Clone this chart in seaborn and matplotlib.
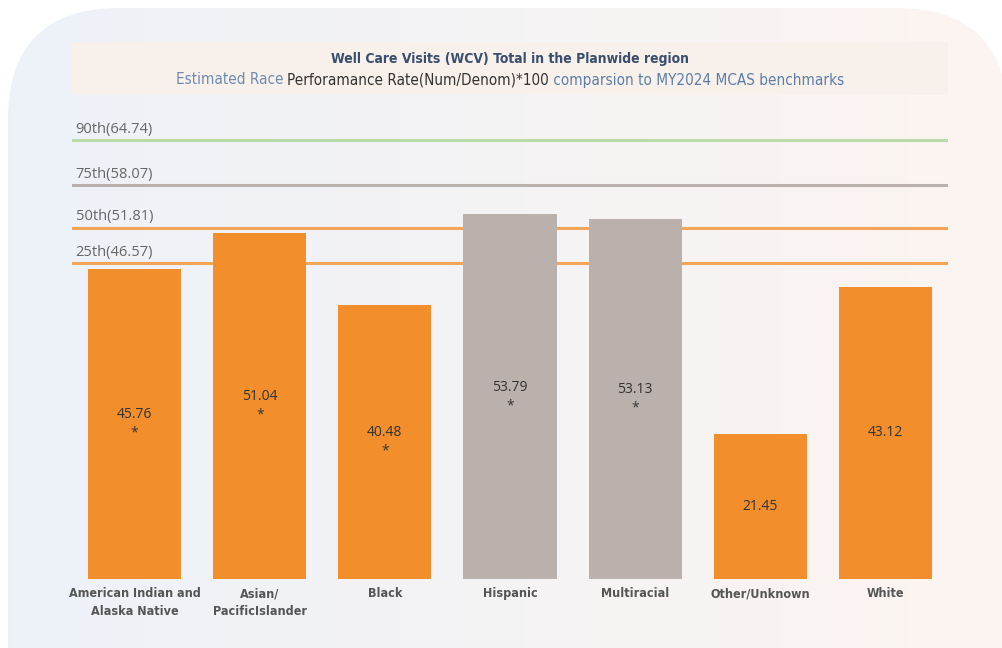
import numpy as np
import pandas as pd
import matplotlib
matplotlib.use("Agg")
import matplotlib.pyplot as plt
from matplotlib.patches import FancyBboxPatch, Rectangle
from matplotlib import font_manager
import seaborn as sns

# ---- data -------------------------------------------------------------
categories = ["American Indian and\nAlaska Native", "Asian/\nPacificIslander", "Black",
              "Hispanic", "Multiracial", "Other/Unknown", "White"]
rates = [45.76, 51.04, 40.48, 53.79, 53.13, 21.45, 43.12]
flagged = [True, True, True, True, True, False, False]
above_median = [False, False, False, True, True, False, False]

bench_names = ["90th", "75th", "50th", "25th"]
bench_values = [64.74, 58.07, 51.81, 46.57]

ORANGE = "#F28E2B"
GREY = "#BAB0AC"
bench_colors = ["#B9DBA8", "#BAB0AC", "#F5A55A", "#F5A55A"]

sns.set_theme(style="white")
plt.rcParams["font.family"] = ["DejaVu Sans"]

# narrow face for headings and category labels
cond_fp = font_manager.FontProperties(family="DejaVu Sans", stretch="condensed")
cond_path = font_manager.findfont(cond_fp)
COND_FILE = cond_path if "Condensed" in cond_path else None


def cond_props(size, weight="normal"):
    if COND_FILE:
        fname = COND_FILE
        if weight == "bold" and "Bold" not in fname:
            cand = fname.replace("Condensed.ttf", "Condensed-Bold.ttf")
            try:
                font_manager.get_font(cand)
                fname = cand
            except Exception:
                pass
        return font_manager.FontProperties(fname=fname, size=size)
    return font_manager.FontProperties(family="Liberation Sans", size=size, weight=weight)


REG = ["Open Sans", "DejaVu Sans"]

W, H = 1003, 648
fig = plt.figure(figsize=(W / 100, H / 100), dpi=100)
fig.patch.set_facecolor("white")

# ---- rounded gradient panel behind everything --------------------------
bg = fig.add_axes([0, 0, 1, 1], zorder=0)
bg.set_xlim(0, W)
bg.set_ylim(H, 0)
bg.axis("off")
grad = np.linspace(0, 1, 256)[None, :]
c0 = np.array([0.929, 0.949, 0.976])
c1 = np.array([0.990, 0.958, 0.942])
img = c0[None, None, :] * (1 - grad[..., None]) + c1[None, None, :] * grad[..., None]
panel = FancyBboxPatch((8, 8), 1000, 900, boxstyle="round,pad=0,rounding_size=112",
                       facecolor="none", edgecolor="none")
bg.add_patch(panel)
im = bg.imshow(img, extent=[8, W, H, 8], aspect="auto", zorder=0)
im.set_clip_path(panel)
bg.add_patch(Rectangle((72, 42), 876, 53, facecolor="#F8F0EA", edgecolor="none", zorder=1))

# ---- bars ---------------------------------------------------------------
ax = fig.add_axes([72 / W, (H - 579) / H, 876 / W, (579 - 110) / H], zorder=2)
ax.patch.set_alpha(0)
df = pd.DataFrame({"group": categories, "rate": rates})
palette = {c: (GREY if a else ORANGE) for c, a in zip(categories, above_median)}
sns.barplot(data=df, x="group", y="rate", hue="group", palette=palette,
            width=0.745, saturation=1, legend=False, ax=ax, zorder=3, linewidth=0)

ax.set_xlim(-0.5, 6.5)
ax.set_ylim(0, 69.2)
for s in ax.spines.values():
    s.set_visible(False)
ax.set_yticks([])
ax.set_xlabel("")
ax.set_ylabel("")
ax.tick_params(axis="x", length=0, pad=6)
tick_fp = cond_props(9, "bold")
for lab in ax.get_xticklabels():
    lab.set_fontproperties(tick_fp)
    lab.set_color("#555555")
    lab.set_linespacing(1.5)

for i, (v, f) in enumerate(zip(rates, flagged)):
    txt = f"{v:.2f}\n*" if f else f"{v:.2f}"
    ax.text(i, v / 2, txt, ha="center", va="center", fontsize=10, color="#333333",
            family=REG, linespacing=1.35, zorder=5)

# ---- benchmark reference lines -----------------------------------------
for name, val, col in zip(bench_names, bench_values, bench_colors):
    ax.axhline(val, color=col, lw=2.2, zorder=2)
    ax.annotate(f"{name}({val:.2f})", xy=(0.004, val), xycoords=ax.get_yaxis_transform(),
                xytext=(0, 2.5), textcoords="offset points", ha="left", va="bottom",
                fontsize=10.5, color="#666666", family=REG, zorder=4)

# ---- titles -------------------------------------------------------------
fig.text(510 / W, 1 - 59 / H, "Well Care Visits (WCV) Total in the Planwide region",
         ha="center", va="center", fontproperties=cond_props(10, "bold"), color="#3A4E6E")

parts = [("Estimated Race ", "#6F8BAE"),
         ("Perforamance Rate(Num/Denom)*100", "#333333"),
         (" comparsion to MY2024 MCAS benchmarks", "#5D7EA6")]
renderer = fig.canvas.get_renderer()
texts = []
for s, c in parts:
    t = fig.text(0, 1 - 80 / H, s, ha="left", va="center",
                 fontproperties=cond_props(11), color=c)
    texts.append(t)
widths = [t.get_window_extent(renderer).width for t in texts]
x = 510 - sum(widths) / 2
for t, w in zip(texts, widths):
    t.set_x(x / W)
    x += w

fig.savefig("out.png", dpi=100)
